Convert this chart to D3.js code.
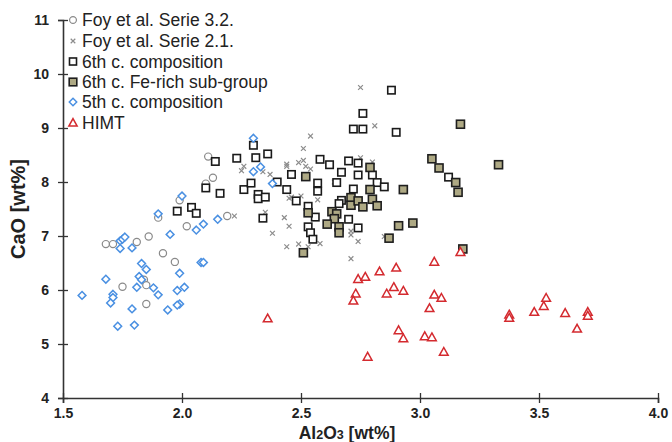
<!DOCTYPE html>
<html><head><meta charset="utf-8">
<script src="https://cdn.jsdelivr.net/npm/d3@7"></script>
<style>
html,body{margin:0;padding:0;background:#fff;}
svg{display:block;font-family:"Liberation Sans",Arial,sans-serif;}
</style></head>
<body><svg id="c" width="672" height="442"></svg>
<script>
// ---- data ----
const xTicks = [1.5, 2.0, 2.5, 3.0, 3.5, 4.0];
const yTicks = [4, 5, 6, 7, 8, 9, 10, 11];
const seriesNames = ["Foy et al. Serie 3.2.", "Foy et al. Serie 2.1.", "6th c. composition", "6th c. Fe-rich sub-group", "5th c. composition", "HIMT"];

const foy32 = [[1.68,6.85],[1.71,6.85],[1.81,6.89],[1.86,6.99],[1.92,6.68],[1.97,6.52],[1.75,6.06],[1.84,6.19],[1.85,6.09],[1.85,5.74],[1.90,7.34],[1.99,7.66],[2.02,7.18],[2.10,7.97],[2.11,8.47],[2.13,8.08],[2.19,7.37]];

const foy21 = [[2.75,9.75],[2.81,9.04],[2.54,8.85],[2.51,8.62],[2.25,8.21],[2.26,8.29],[2.34,8.19],[2.37,8.14],[2.44,8.33],[2.44,8.29],[2.49,8.36],[2.51,8.40],[2.52,8.29],[2.54,8.24],[2.45,7.70],[2.46,7.72],[2.50,7.74],[2.57,7.67],[2.43,7.34],[2.45,7.18],[2.38,7.05],[2.35,7.44],[2.44,6.80],[2.49,6.85],[2.53,6.80],[2.58,6.86],[2.22,7.37],[2.71,6.58],[2.75,8.45],[2.80,8.37],[2.64,8.00],[2.71,7.09],[2.71,7.02],[2.74,6.90],[2.85,6.99]];

const sixth = [[2.14,8.38],[2.23,8.44],[2.10,7.89],[2.16,7.79],[2.26,7.86],[1.98,7.46],[2.04,7.53],[2.06,7.42],[2.30,8.68],[2.31,8.45],[2.36,8.52],[2.29,7.98],[2.32,7.77],[2.32,7.69],[2.35,7.72],[2.34,7.33],[2.40,8.00],[2.44,7.86],[2.46,8.14],[2.48,7.65],[2.58,8.42],[2.53,7.55],[2.56,7.35],[2.53,7.17],[2.54,7.06],[2.55,6.94],[2.57,7.98],[2.57,7.83],[2.62,8.32],[2.70,8.39],[2.74,8.35],[2.67,8.18],[2.74,8.13],[2.80,8.13],[2.65,7.99],[2.82,7.99],[2.85,7.91],[2.72,7.87],[2.67,7.66],[2.66,7.60],[2.70,7.31],[2.74,7.15],[2.72,8.98],[2.76,8.98],[2.76,9.27],[2.88,9.70],[2.90,8.92],[3.12,8.09]];

const feRich = [[2.52,8.10],[2.53,7.43],[2.51,6.69],[2.79,8.27],[2.79,7.86],[2.71,7.71],[2.71,7.57],[2.74,7.65],[2.76,7.54],[2.80,7.68],[2.82,7.56],[2.63,7.45],[2.65,7.41],[2.64,7.32],[2.61,7.22],[2.66,7.17],[2.66,7.06],[2.91,7.19],[2.97,7.24],[2.87,6.96],[2.93,7.86],[3.17,9.07],[3.05,8.43],[3.08,8.26],[3.15,7.99],[3.16,7.81],[3.33,8.32],[3.18,6.76]];

const fifth = [[1.74,6.91],[1.75,6.94],[1.76,6.98],[1.74,6.77],[1.79,6.78],[1.95,7.03],[1.83,6.49],[1.85,6.38],[1.82,6.25],[1.83,6.19],[1.99,6.31],[1.68,6.20],[1.58,5.90],[1.71,5.92],[1.71,5.86],[1.70,5.76],[1.81,6.05],[1.88,6.04],[1.90,5.91],[1.98,5.99],[2.01,6.05],[1.79,5.65],[1.94,5.63],[1.99,5.74],[1.98,5.72],[1.73,5.33],[1.80,5.35],[2.30,8.81],[2.30,8.19],[2.33,8.28],[2.38,7.97],[2.00,7.74],[1.90,7.41],[2.06,7.11],[2.09,7.22],[2.15,7.31],[2.08,6.51],[2.09,6.51]];

const himt = [[2.36,5.47],[2.74,6.20],[2.77,6.24],[2.83,6.34],[2.90,6.41],[3.06,6.52],[3.17,6.70],[2.73,5.93],[2.72,5.80],[2.89,6.05],[2.86,5.93],[2.93,5.98],[3.06,5.91],[3.09,5.85],[3.04,5.66],[2.91,5.25],[2.93,5.10],[3.02,5.14],[3.05,5.12],[3.10,4.85],[2.78,4.76],[3.375,5.54],[3.375,5.48],[3.48,5.59],[3.52,5.70],[3.53,5.85],[3.61,5.57],[3.66,5.28],[3.705,5.59],[3.705,5.52]];

// ---- chart ----
const svg = d3.select("#c");
const x = d3.scaleLinear().domain([1.5, 4.0]).range([63, 658]);
const y = d3.scaleLinear().domain([4, 11]).range([398, 20]);
const axisColor = "#333";

// axes
const gx = svg.append("g").attr("transform", "translate(0,398)")
  .call(d3.axisBottom(x).tickValues(xTicks).tickFormat(d3.format(".1f")).tickSize(5).tickPadding(5));
const gy = svg.append("g").attr("transform", "translate(63,0)")
  .call(d3.axisLeft(y).tickValues(yTicks).tickFormat(d3.format("d")).tickSize(5).tickPadding(9));
gx.select(".domain").attr("stroke", axisColor).attr("stroke-width", 1.6);
gy.select(".domain").attr("stroke", axisColor).attr("stroke-width", 1.6);
gx.selectAll(".tick line").attr("y1", -5).attr("stroke", axisColor).attr("stroke-width", 1.3);
gy.selectAll(".tick line").attr("x1", 5).attr("stroke", axisColor).attr("stroke-width", 1.3);
[gx, gy].forEach(g => g.selectAll(".tick text").attr("fill", "#222")
  .style("font-size", "14px").style("font-weight", "bold")
  .style("font-family", "'Liberation Sans',Arial,sans-serif"));

// axis titles
svg.append("text").attr("transform", "translate(25,209) rotate(-90)")
  .attr("text-anchor", "middle").attr("fill", "#222")
  .style("font-size", "20px").style("font-weight", "bold").text("CaO [wt%]");
const xt = svg.append("text").attr("x", 347).attr("y", 439).attr("text-anchor", "middle")
  .attr("fill", "#222").style("font-size", "17.5px").style("font-weight", "bold");
xt.append("tspan").text("Al");
xt.append("tspan").style("font-size", "12.5px").text("2");
xt.append("tspan").text("O");
xt.append("tspan").style("font-size", "12.5px").text("3");
xt.append("tspan").text(" [wt%]");

// marker shapes
const styles = [
  {data: foy32, type: "circle"},
  {data: foy21, type: "cross"},
  {data: sixth, type: "square"},
  {data: feRich, type: "fe"},
  {data: fifth, type: "diamond"},
  {data: himt, type: "tri"}
];

function drawMarker(g, type, scale) {
  const s = scale || 1;
  if (type === "circle") {
    g.append("circle").attr("r", 3.6 * s).attr("fill", "#fff").attr("stroke", "#8a8a8a").attr("stroke-width", 1.2);
  } else if (type === "cross") {
    const a = 2.4 * s;
    g.append("path").attr("d", `M${-a},${-a}L${a},${a}M${-a},${a}L${a},${-a}`)
      .attr("stroke", "#8c8c8c").attr("stroke-width", 1.2).attr("fill", "none");
  } else if (type === "square") {
    const a = 3.7 * s;
    g.append("rect").attr("x", -a).attr("y", -a).attr("width", 2 * a).attr("height", 2 * a)
      .attr("fill", "#fff").attr("stroke", "#1a1a1a").attr("stroke-width", 1.6);
  } else if (type === "fe") {
    const a = 4.0 * s;
    g.append("rect").attr("x", -a).attr("y", -a).attr("width", 2 * a).attr("height", 2 * a)
      .attr("fill", "#aea984").attr("stroke", "#1e1e1e").attr("stroke-width", 1.6);
  } else if (type === "diamond") {
    const a = 3.9 * s;
    g.append("path").attr("d", `M0,${-a}L${a},0L0,${a}L${-a},0Z`)
      .attr("fill", "#fff").attr("stroke", "#4a90e2").attr("stroke-width", 1.5);
  } else if (type === "tri") {
    const a = 4.6 * s;
    g.append("path").attr("d", `M0,${-a}L${a * 0.95},${a * 0.7}L${-a * 0.95},${a * 0.7}Z`)
      .attr("fill", "#fff").attr("stroke", "#d42a2f").attr("stroke-width", 1.5);
  }
}

styles.forEach(st => {
  const g = svg.append("g");
  st.data.forEach(d => {
    const m = g.append("g").attr("transform", `translate(${x(d[0])},${y(d[1])})`);
    drawMarker(m, st.type);
  });
});

// legend
const legY = [20, 41, 61.5, 82, 102, 123];
const leg = svg.append("g");
seriesNames.forEach((n, i) => {
  const m = leg.append("g").attr("transform", `translate(73,${legY[i]})`);
  drawMarker(m, styles[i].type, 0.95);
  leg.append("text").attr("x", 82).attr("y", legY[i] + 6).attr("fill", "#222")
    .style("font-size", "17.5px").text(n);
});
</script></body></html>
